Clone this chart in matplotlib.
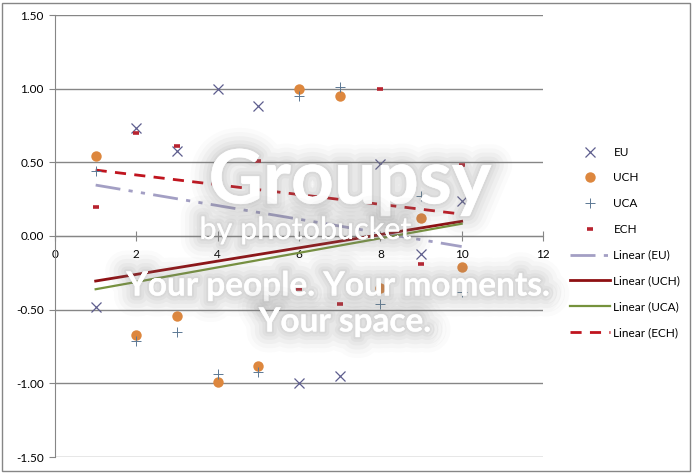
"""Scatter of EU / UCH / UCA / ECH scores with linear trendlines (Excel style)."""

import matplotlib.pyplot as plt
import matplotlib.patheffects as pe
import numpy as np
from matplotlib.patches import Rectangle

plt.rcParams["font.family"] = ["Lato", "DejaVu Sans"]

X = [1, 2, 3, 4, 5, 6, 7, 8, 9, 10]
EU = [-0.48, 0.73, 0.58, 1.00, 0.88, -1.00, -0.95, 0.49, -0.12, 0.24]
UCH = [0.54, -0.67, -0.54, -0.99, -0.88, 1.00, 0.95, -0.35, 0.12, -0.21]
UCA = [0.44, -0.71, -0.65, -0.94, -0.92, 0.95, 1.01, -0.46, 0.27, -0.38]
ECH = [0.20, 0.70, 0.61, 0.49, 0.51, -0.36, -0.46, 1.00, -0.19, 0.48]

SERIES = ["EU", "UCH", "UCA", "ECH"]
X_TICKS = [0, 2, 4, 6, 8, 10, 12]
Y_TICKS = [-1.5, -1.0, -0.5, 0.0, 0.5, 1.0, 1.5]

GRID = "#868686"


def trend(xs, ys):
    slope, icpt = np.polyfit(xs, ys, 1)
    xs = np.array([min(xs), max(xs)], dtype=float)
    return xs, slope * xs + icpt


def main() -> None:
    fig = plt.figure(figsize=(6.93, 4.74), dpi=100)
    ax = fig.add_axes([55 / 693, 1 - 457 / 474, 488 / 693, 442 / 474])

    ax.plot(X, EU, ls="none", marker="x", ms=7, mew=0.9, color="#5E5E8E", label="EU", zorder=4)
    ax.plot(X, UCH, ls="none", marker="o", ms=7.5, mew=0, color="#DD873E", label="UCH", zorder=4)
    ax.plot(X, UCA, ls="none", marker="+", ms=7.5, mew=0.7, color="#5C7894", label="UCA", zorder=5)
    ax.plot(X, ECH, ls="none", marker="_", ms=4.5, mew=2.6, color="#B8232F", label="ECH", zorder=5)

    tx, ty = trend(X, EU)
    ax.plot(tx, ty, color="#A39FC4", lw=2, dashes=(9, 3, 1.5, 3, 1.5, 3), label="Linear (EU)", zorder=3)
    tx, ty = trend(X, UCH)
    ax.plot(tx, ty, color="#8E0F12", lw=2, label="Linear (UCH)", zorder=3)
    tx, ty = trend(X, UCA)
    ax.plot(tx, ty, color="#76923C", lw=1.6, label="Linear (UCA)", zorder=3)
    tx, ty = trend(X, ECH)
    ax.plot(tx, ty, color="#C0141E", lw=2, dashes=(4, 3), label="Linear (ECH)", zorder=3)

    ax.set_xlim(0, 12)
    ax.set_ylim(-1.5, 1.5)
    ax.set_xticks(X_TICKS)
    ax.set_yticks(Y_TICKS)
    ax.set_yticklabels([f"{v:.2f}" for v in Y_TICKS])
    ax.grid(axis="y", color=GRID, lw=1)
    ax.set_axisbelow(True)

    for side in ["top", "right"]:
        ax.spines[side].set_visible(False)
    ax.spines["left"].set_color(GRID)
    ax.spines["bottom"].set_color(GRID)
    ax.spines["bottom"].set_position(("data", 0))
    ax.tick_params(axis="y", direction="out", length=4, color=GRID, labelsize=8.5, pad=4)
    ax.tick_params(axis="x", direction="inout", length=7, color=GRID, labelsize=8.5, pad=6)

    ax.legend(loc="upper left", bbox_to_anchor=(565 / 693, 1 - 142 / 474), bbox_transform=fig.transFigure,
              frameon=False, fontsize=8.5, handlelength=3.4, handletextpad=0.3, labelspacing=1.25,
              borderaxespad=0)

    fig.add_artist(Rectangle((2 / 693, 3 / 474), 688 / 693, 468 / 474, transform=fig.transFigure,
                             fill=False, edgecolor=GRID, lw=1))

    # photobucket watermark sitting on top of the chart, white with a soft grey haze
    glow = [pe.withStroke(linewidth=w, foreground="#808080", alpha=a)
            for w, a in [(30, 0.03), (24, 0.04), (18, 0.05), (12, 0.06), (7, 0.07), (3, 0.08)]]
    wm = dict(color="white", transform=fig.transFigure, zorder=20, path_effects=glow)
    fig.text(350 / 693, 1 - 182 / 474, "Groupsy", fontsize=54, fontweight="bold", ha="center", va="center", **wm)
    fig.text(305 / 693, 1 - 230 / 474, "by photobucket", fontsize=22, ha="center", va="center", **wm)
    fig.text(338 / 693, 1 - 286 / 474, "Your people. Your moments.", fontsize=24, fontweight="bold",
             ha="center", va="center", **wm)
    fig.text(345 / 693, 1 - 322 / 474, "Your space.", fontsize=24, fontweight="bold",
             ha="center", va="center", **wm)

    fig.savefig("out.png", dpi=100)
    plt.close(fig)


if __name__ == "__main__":
    main()
